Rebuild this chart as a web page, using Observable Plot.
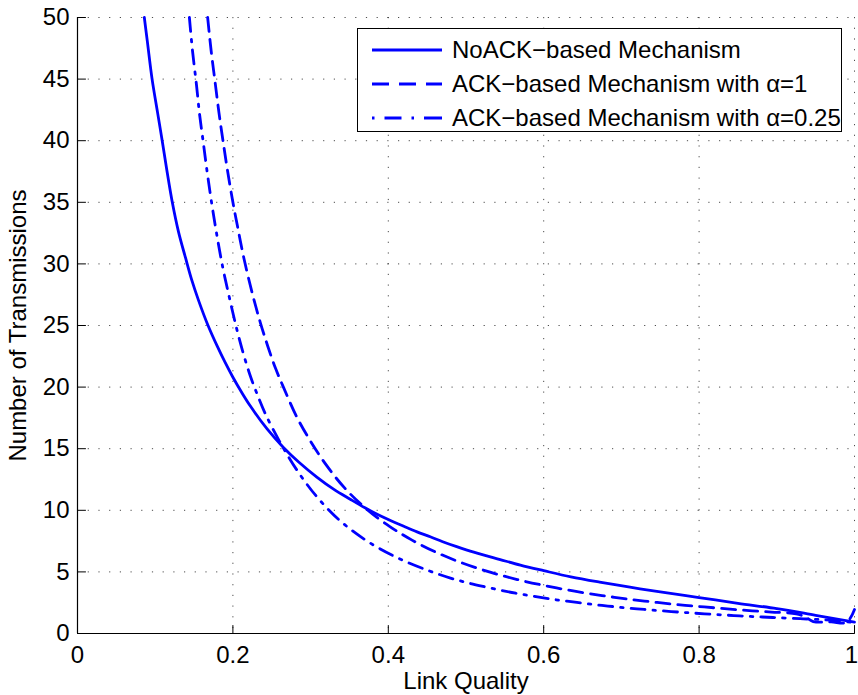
<!DOCTYPE html>
<html>
<head>
<meta charset="utf-8">
<script src="https://cdn.jsdelivr.net/npm/d3@7"></script>
<script src="https://cdn.jsdelivr.net/npm/@observablehq/plot@0.6"></script>
<style>
  html, body { margin: 0; padding: 0; background: #fff; }
  #wrap { position: relative; width: 858px; height: 695px; font-family: "Liberation Sans", Arial, Helvetica, sans-serif; }
  #legend { position: absolute; left: 357px; top: 28px; width: 483px; height: 102px; border: 1px solid #000; background: #fff; }
  .row { position: absolute; left: 0; height: 34px; display: flex; align-items: center; font-size: 24px; color: #000; white-space: nowrap; }
  .row svg { margin-left: 14px; margin-right: 10px; }
</style>
</head>
<body>
<div id="wrap"></div>
<script>
// ---- data ----
const xTicks = [0, 0.2, 0.4, 0.6, 0.8, 1];
const yTicks = [0, 5, 10, 15, 20, 25, 30, 35, 40, 45, 50];

const seriesNames = [
  "NoACK\u2212based Mechanism",
  "ACK\u2212based Mechanism with \u03b1=1",
  "ACK\u2212based Mechanism with \u03b1=0.25"
];

const noAckX = [0.086, 0.09, 0.096, 0.103, 0.109, 0.115, 0.122, 0.13, 0.139, 0.147, 0.156, 0.168, 0.18, 0.19, 0.2, 0.211, 0.222, 0.244, 0.265, 0.285, 0.308, 0.33, 0.351, 0.37, 0.385, 0.4, 0.42, 0.437, 0.454, 0.47, 0.488, 0.51, 0.544, 0.57, 0.6, 0.635, 0.672, 0.711, 0.75, 0.8, 0.85, 0.9, 0.95, 1.0];
const noAckY = [50, 48.0, 45, 42.3, 40, 37.6, 35, 32.6, 30.5, 28.7, 27.0, 25.0, 23.3, 22.0, 20.8, 19.6, 18.5, 16.6, 15.1, 13.9, 12.7, 11.7, 10.9, 10.2, 9.7, 9.25, 8.7, 8.25, 7.85, 7.45, 7.05, 6.6, 6.0, 5.55, 5.1, 4.6, 4.17, 3.76, 3.38, 2.92, 2.45, 2.02, 1.48, 0.93];

const ack1X = [0.1675, 0.172, 0.177, 0.182, 0.187, 0.193, 0.2, 0.207, 0.214, 0.225, 0.235, 0.245, 0.255, 0.265, 0.282, 0.3, 0.321, 0.344, 0.372, 0.402, 0.43, 0.462, 0.497, 0.531, 0.566, 0.602, 0.638, 0.675, 0.708, 0.746, 0.782, 0.819, 0.856, 0.893, 0.925, 0.938, 0.947, 0.97, 0.99, 1.0];
const ack1Y = [50, 47.3, 44.8, 42.3, 40.1, 37.6, 35.0, 32.7, 30.5, 27.6, 25.3, 23.3, 21.5, 20.0, 17.6, 15.6, 13.6, 11.8, 10.1, 8.68, 7.6, 6.58, 5.68, 4.98, 4.38, 3.88, 3.45, 3.08, 2.8, 2.52, 2.29, 2.09, 1.9, 1.74, 1.6, 1.3, 0.97, 0.94, 0.92, 1.95];

const ack025X = [0.144, 0.148, 0.153, 0.157, 0.162, 0.167, 0.173, 0.18, 0.187, 0.195, 0.205, 0.214, 0.223, 0.232, 0.242, 0.26, 0.282, 0.308, 0.338, 0.374, 0.415, 0.454, 0.48, 0.5, 0.522, 0.543, 0.564, 0.587, 0.609, 0.63, 0.653, 0.675, 0.697, 0.72, 0.74, 0.764, 0.785, 0.807, 0.83, 0.852, 0.874, 0.895, 0.93, 0.96, 0.98, 1.0];
const ack025Y = [50, 47.3, 44.6, 42.2, 39.8, 37.4, 34.8, 32.1, 29.7, 27.4, 24.7, 22.6, 20.8, 19.3, 17.8, 15.6, 13.3, 11.1, 9.15, 7.45, 6.05, 5.05, 4.5, 4.15, 3.82, 3.53, 3.27, 3.02, 2.8, 2.62, 2.44, 2.28, 2.14, 2.0, 1.9, 1.78, 1.69, 1.6, 1.51, 1.43, 1.36, 1.3, 1.2, 1.12, 1.02, 0.9];

// ---- build tables ----
const toRows = (xs, ys) => xs.map((x, i) => ({x, y: ys[i]}));
const noAck = toRows(noAckX, noAckY);
const ack1 = toRows(ack1X, ack1Y);
const ack025 = toRows(ack025X, ack025Y);

const BLUE = "#0000ff";
const LW = 2.8;
const tickShape = { draw(context, l) { context.moveTo(0, 0); context.lineTo(0, -l); } };
const gridStyle = {stroke: "#000", strokeOpacity: 0.7, strokeWidth: 1, strokeDasharray: "1.2,9.5"};

const chart = Plot.plot({
  width: 858,
  height: 695,
  marginLeft: 77,
  marginRight: 4,
  marginTop: 17,
  marginBottom: 62,
  style: {fontFamily: "'Liberation Sans', Arial, Helvetica, sans-serif", fontSize: "24px", background: "#fff", color: "#000"},
  x: {domain: [0, 1]},
  y: {domain: [0, 50]},
  marks: [
    Plot.gridX(xTicks, gridStyle),
    Plot.gridY(yTicks, gridStyle),
    Plot.line(noAck, {x: "x", y: "y", stroke: BLUE, strokeWidth: LW, curve: "catmull-rom"}),
    Plot.line(ack1, {x: "x", y: "y", stroke: BLUE, strokeWidth: LW, curve: "catmull-rom", strokeDasharray: "14,8"}),
    Plot.line(ack025, {x: "x", y: "y", stroke: BLUE, strokeWidth: LW, curve: "catmull-rom", strokeDasharray: "14,8,2.5,8"}),
    Plot.ruleY([0], {stroke: "#000", strokeWidth: 1.2}),
    Plot.ruleX([0], {stroke: "#000", strokeWidth: 1.2}),
    Plot.vector(xTicks, {x: d => d, frameAnchor: "bottom", rotate: 0, length: 8, anchor: "start", shape: tickShape, stroke: "#000", strokeWidth: 1}),
    Plot.vector(yTicks, {y: d => d, frameAnchor: "left", rotate: 90, length: 8, anchor: "start", shape: tickShape, stroke: "#000", strokeWidth: 1}),
    Plot.axisX({ticks: xTicks.slice(0, -1), tickSize: 0, tickPadding: 12, tickFormat: d => String(d), label: "Link Quality", labelAnchor: "center", labelOffset: 55, labelArrow: "none"}),
    Plot.axisX({ticks: xTicks.slice(-1), tickSize: 0, tickPadding: 12, tickFormat: d => String(d), label: null, dx: -3}),
    Plot.axisY({ticks: yTicks, tickSize: 0, tickPadding: 8, tickFormat: d => String(d), label: "Number of Transmissions", labelAnchor: "center", labelOffset: 69, labelArrow: "none"})
  ]
});

const wrap = document.getElementById("wrap");
wrap.appendChild(chart);

// ---- legend (HTML overlay) ----
const legend = document.createElement("div");
legend.id = "legend";
seriesNames.forEach((name, i) => {
  const row = document.createElement("div");
  row.className = "row";
  row.style.top = (4 + i * 34) + "px";
  const ns = "http://www.w3.org/2000/svg";
  const s = document.createElementNS(ns, "svg");
  s.setAttribute("width", "70");
  s.setAttribute("height", "10");
  const ln = document.createElementNS(ns, "line");
  ln.setAttribute("x1", "0");
  ln.setAttribute("x2", "70");
  ln.setAttribute("y1", "5");
  ln.setAttribute("y2", "5");
  ln.setAttribute("stroke", BLUE);
  ln.setAttribute("stroke-width", String(LW));
  if (i === 1) ln.setAttribute("stroke-dasharray", "17,10");
  if (i === 2) ln.setAttribute("stroke-dasharray", "2.5,10,17,10,2.5,10,19");
  s.appendChild(ln);
  row.appendChild(s);
  const t = document.createElement("span");
  t.textContent = name;
  row.appendChild(t);
  legend.appendChild(row);
});
wrap.appendChild(legend);
</script>
</body>
</html>
